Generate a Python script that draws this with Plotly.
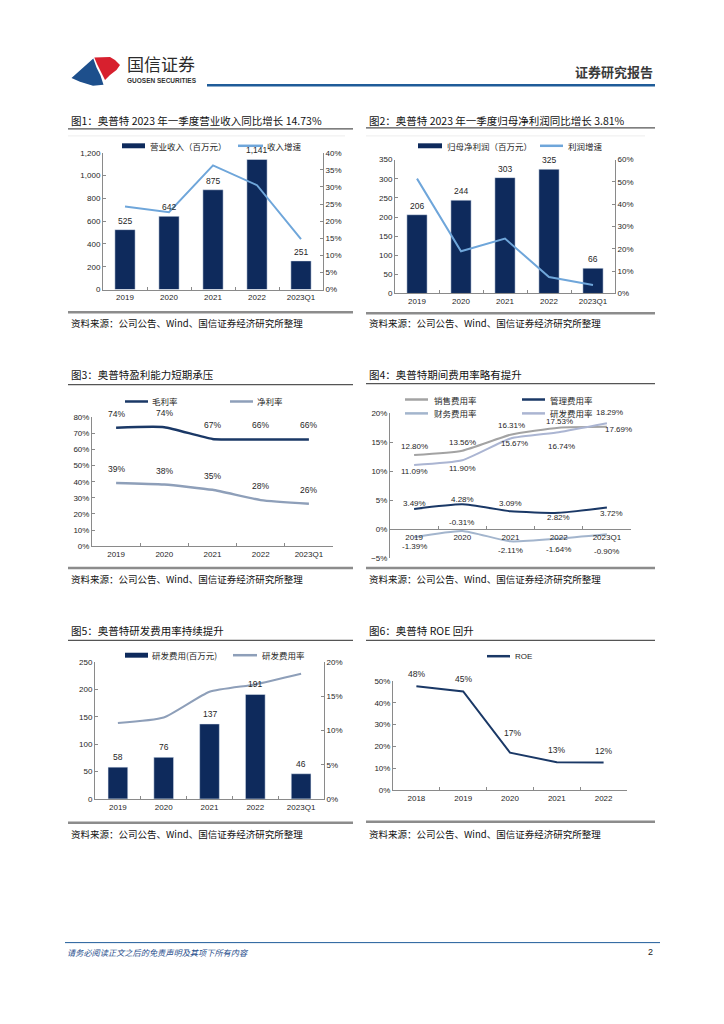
import plotly.graph_objects as go

# ---------------- data ----------------
years = ["2019", "2020", "2021", "2022", "2023Q1"]
roe_years = ["2018", "2019", "2020", "2021", "2022"]

revenue = [525, 642, 875, 1141, 251]                 # 营业收入（百万元）
revenue_growth = [24.3, 22.6, 36.3, 30.5, 14.73]     # 收入增速 %

net_profit = [206, 244, 303, 325, 66]                # 归母净利润（百万元）
profit_growth = [51.5, 18.9, 24.6, 7.4, 3.81]        # 利润增速 %

gross_margin = [73.6, 73.9, 66.6, 66.3, 66.3]        # 毛利率 %
gross_labels = ["74%", "74%", "67%", "66%", "66%"]
net_margin = [39.3, 38.3, 35.0, 28.6, 26.3]          # 净利率 %
net_labels = ["39%", "38%", "35%", "28%", "26%"]

sales_rate = [12.80, 13.56, 16.31, 17.53, 17.69]     # 销售费用率
admin_rate = [3.49, 4.28, 3.09, 2.82, 3.72]          # 管理费用率
fin_rate = [-1.39, -0.31, -2.11, -1.64, -0.90]       # 财务费用率
rd_rate = [11.09, 11.90, 15.67, 16.74, 18.29]        # 研发费用率

rd_expense = [58, 76, 137, 191, 46]                  # 研发费用（百万元）

roe = [47.6, 45.2, 17.1, 12.7, 12.6]                 # ROE %
roe_labels = ["48%", "45%", "17%", "13%", "12%"]

# ---------------- styling ----------------
# the page body has an 8px margin, so the figure starts at (8, 8) of the window
OFF = 8
W, H = 708, 1008
def X(px): return (px - OFF) / W
def Y(py): return 1 - (py - OFF) / H

NAVY = "#0E2A5C"
LBLUE = "#6FA6DA"
GBLUE = "#8E9FB9"
DNAVY = "#1A3866"
GRAY = "#A3A3A3"
FINC = "#A3B5CD"
RDC = "#ABB5D2"
AX = "#8A8A8A"
TXT = "#262626"
FONT = "Liberation Sans, Noto Sans CJK SC, sans-serif"
CJK = "Noto Sans CJK SC, Liberation Sans, sans-serif"

fig = go.Figure()

# chart 1
fig.add_trace(go.Bar(x=years, y=revenue, marker_color=NAVY, width=0.46, xaxis="x", yaxis="y"))
fig.add_trace(go.Scatter(x=years, y=revenue_growth, mode="lines", line=dict(color=LBLUE, width=2), xaxis="x", yaxis="y2"))
# chart 2
fig.add_trace(go.Bar(x=years, y=net_profit, marker_color=NAVY, width=0.46, xaxis="x2", yaxis="y3"))
fig.add_trace(go.Scatter(x=years, y=profit_growth, mode="lines", line=dict(color=LBLUE, width=2), xaxis="x2", yaxis="y4"))
# chart 3
fig.add_trace(go.Scatter(x=years, y=gross_margin, mode="lines", line=dict(color=DNAVY, width=2.5, shape="spline", smoothing=0.5), xaxis="x3", yaxis="y5"))
fig.add_trace(go.Scatter(x=years, y=net_margin, mode="lines", line=dict(color=GBLUE, width=2.5, shape="spline", smoothing=0.5), xaxis="x3", yaxis="y5"))
# chart 4
for vals, col in [(sales_rate, GRAY), (admin_rate, DNAVY), (fin_rate, FINC), (rd_rate, RDC)]:
    fig.add_trace(go.Scatter(x=years, y=vals, mode="lines", line=dict(color=col, width=2, shape="spline", smoothing=0.5), xaxis="x4", yaxis="y6"))
# chart 5
fig.add_trace(go.Bar(x=years, y=rd_expense, marker_color=NAVY, width=0.43, xaxis="x5", yaxis="y7"))
fig.add_trace(go.Scatter(x=years, y=rd_rate, mode="lines", line=dict(color=GBLUE, width=2, shape="spline", smoothing=0.5), xaxis="x5", yaxis="y8"))
# chart 6
fig.add_trace(go.Scatter(x=roe_years, y=roe, mode="lines", line=dict(color=DNAVY, width=2), xaxis="x6", yaxis="y9"))


def xax(x0, x1, anchor, **kw):
    d = dict(domain=[X(x0), X(x1)], anchor=anchor, type="category", range=[-0.5, 4.5], showline=True,
             linecolor=AX, linewidth=1, ticks="inside", tickson="boundaries", ticklen=3, tickcolor=AX,
             showgrid=False, zeroline=False, tickangle=0,
             tickfont=dict(size=8, color=TXT, family=FONT), fixedrange=True)
    d.update(kw)
    return d

def yax(y0, y1, anchor, rng, dtick, **kw):
    d = dict(domain=[Y(y0), Y(y1)], anchor=anchor, range=rng, dtick=dtick, showline=True, linecolor=AX, linewidth=1,
             ticks="inside", ticklen=3, tickcolor=AX, showgrid=False, zeroline=False,
             tickfont=dict(size=8, color=TXT, family=FONT), fixedrange=True)
    d.update(kw)
    return d

def yright(over, anchor, rng, dtick):
    return dict(overlaying=over, side="right", anchor=anchor, range=rng, dtick=dtick, ticksuffix="%",
                showline=True, linecolor=AX, linewidth=1, ticks="inside", ticklen=3, tickcolor=AX,
                showgrid=False, zeroline=False, tickfont=dict(size=8, color=TXT, family=FONT), fixedrange=True)

zero4 = 413 + 20 / 25 * 146

layout = dict(
    width=W, height=H, margin=dict(l=0, r=0, t=0, b=0), showlegend=False,
    paper_bgcolor="white", plot_bgcolor="white", separators=".,",
    font=dict(family=FONT, color=TXT),
    xaxis=xax(103, 323, "y"),
    yaxis=yax(288, 150, "x", [0, 1200], 200, tickformat=",d"),
    yaxis2=yright("y", "x", [0, 40], 5),
    xaxis2=xax(395, 615, "y3"),
    yaxis3=yax(292, 157, "x2", [0, 350], 50),
    yaxis4=yright("y3", "x2", [0, 60], 10),
    xaxis3=xax(92, 333, "y5"),
    yaxis5=yax(547, 417, "x3", [0, 80], 10, ticksuffix="%"),
    xaxis4=xax(390, 631, "free", position=Y(zero4)),
    yaxis6=yax(559, 413, "x4", [-5, 20], 5, ticksuffix="%"),
    xaxis5=xax(95, 324, "y7"),
    yaxis7=yax(802, 664, "x5", [0, 250], 50),
    yaxis8=yright("y7", "x5", [0, 20], 5),
    xaxis6=xax(393, 627, "y9"),
    yaxis9=yax(793, 683, "x6", [0, 50], 10, ticksuffix="%"),
)
fig.update_layout(**layout)

shapes = []
ann = []

def hline(x0, x1, y, color, width):
    shapes.append(dict(type="line", xref="paper", yref="paper", x0=X(x0), x1=X(x1), y0=Y(y), y1=Y(y),
                       line=dict(color=color, width=width)))

def text(x, y, s, size=9, color=TXT, xanchor="left", family=CJK):
    ann.append(dict(xref="paper", yref="paper", x=X(x), y=Y(y), text=s, showarrow=False,
                    xanchor=xanchor, yanchor="middle", font=dict(size=size, color=color, family=family)))

def swatch_bar(x0, x1, y, color):
    shapes.append(dict(type="rect", xref="paper", yref="paper", x0=X(x0), x1=X(x1), y0=Y(y + 2.5), y1=Y(y - 2.5),
                       fillcolor=color, line=dict(width=0)))

def swatch_line(x0, x1, y, color, width=2.5):
    hline(x0, x1, y, color, width)

# header
def poly(pts, color):
    p = "M " + " L ".join(f"{X(a):.5f},{Y(b):.5f}" for a, b in pts) + " Z"
    shapes.append(dict(type="path", xref="paper", yref="paper", path=p, fillcolor=color, line=dict(width=0)))

poly([(71.5, 74.5), (93.3, 55), (96.5, 64), (100.5, 72), (103.5, 81.5), (93, 82.5), (80, 78.5)], "#1D4F8C")
poly([(94.3, 54), (110, 53.3), (115, 56.5), (120, 61.5), (116.5, 66.5), (110, 71.5), (105, 76.5), (101, 68.5), (97, 60.5)], "#D7202E")
text(125, 60, "国信证券", size=17, color="#2B2B2B")
text(125, 77, "<b>GUOSEN SECURITIES</b>", size=6.5, color="#333333", family=FONT)
text(655, 68, "<b>证券研究报告</b>", size=13, color="#3A3A3A", xanchor="right")
hline(207, 655, 82, "#1F5C99", 2.5)

# footer
hline(65, 660, 947, "#1F5C99", 1)
text(65, 956, "<i>请务必阅读正文之后的免责声明及其项下所有内容</i>", size=8.2, color="#1F4E8C")
text(655, 956, "2", size=9, color="#222222", xanchor="right", family=FONT)

# chart frames: titles, underlines, source lines
SRC = "资料来源：公司公告、Wind、国信证券经济研究所整理"
frames = [
    (68, 353, 117, 126, 311, 322, "图1：奥普特 2023 年一季度营业收入同比增长 14.73%"),
    (366, 655, 117, 125, 312, 322, "图2：奥普特 2023 年一季度归母净利润同比增长 3.81%"),
    (68, 353, 374, 384, 569, 580, "图3：奥普特盈利能力短期承压"),
    (366, 655, 374, 383, 569, 580, "图4：奥普特期间费用率略有提升"),
    (68, 353, 632, 642, 826, 837, "图5：奥普特研发费用率持续提升"),
    (366, 655, 632, 642, 825, 837, "图6：奥普特 ROE 回升"),
]
for x0, x1, ty, ly, sy, sty, title in frames:
    text(x0 + 1, ty, title, size=10.5, color="#111111")
    hline(x0, x1, ly, "#555555", 1.2)
    hline(x0, x1, sy, "#8C8C8C", 2.5)
    text(x0 + 1, sty, SRC, size=9.5, color="#111111")
hline(68, 345, 133, "#EDEDED", 1)
hline(366, 645, 133, "#EDEDED", 1)

# legends
swatch_bar(122, 145, 143, NAVY); text(148, 143, "营业收入（百万元）", size=8.5)
swatch_line(238, 263, 143, LBLUE); text(265, 143, "收入增速", size=8.5)
swatch_bar(418, 442, 143, NAVY); text(445, 143, "归母净利润（百万元）", size=8.5)
swatch_line(540, 563, 143, LBLUE); text(566, 143, "利润增速", size=8.5)
swatch_line(125, 148, 401, DNAVY); text(150, 401, "毛利率", size=8.5)
swatch_line(230, 253, 401, GBLUE); text(255, 401, "净利率", size=8.5)
swatch_line(405, 428, 399, GRAY); text(432, 399, "销售费用率", size=8.5)
swatch_line(522, 545, 399, DNAVY); text(548, 399, "管理费用率", size=8.5)
swatch_line(405, 428, 413, FINC); text(432, 413, "财务费用率", size=8.5)
swatch_line(522, 545, 413, RDC); text(548, 413, "研发费用率", size=8.5)
swatch_bar(125, 148, 657, NAVY); text(150, 657, "研发费用(百万元)", size=8.5)
swatch_line(233, 257, 657, GBLUE); text(260, 657, "研发费用率", size=8.5)
swatch_line(487, 510, 658, DNAVY); text(513, 658, "ROE", size=8, family=FONT)

# data labels through axes (x given as category index)
def dlabel(xr, yr, ys, labels, yshift, xshift=None, size=8.5):
    for i, (yv, lb) in enumerate(zip(ys, labels)):
        ann.append(dict(xref=xr, yref=yr, x=i, y=yv, text=lb, showarrow=False,
                        yshift=yshift[i] if isinstance(yshift, list) else yshift,
                        xshift=(xshift[i] if xshift else 0),
                        font=dict(size=size, color=TXT, family=FONT)))

dlabel("x", "y", revenue, [f"{v:,}" for v in revenue], 9)
dlabel("x2", "y3", net_profit, [f"{v:,}" for v in net_profit], 9)
dlabel("x5", "y7", rd_expense, [f"{v:,}" for v in rd_expense], 10)
dlabel("x3", "y5", gross_margin, gross_labels, 14)
dlabel("x3", "y5", net_margin, net_labels, 14)
dlabel("x6", "y9", roe, roe_labels, [12, 12, 20, 12, 12], [0, 0, 3, 0, 0])

pct2 = lambda vals: [f"{v:.2f}%" for v in vals]
dlabel("x4", "y6", sales_rate, pct2(sales_rate), [9, 8, 9, 6, -3], [0, 0, 1, 1, 12], size=8)
dlabel("x4", "y6", rd_rate, pct2(rd_rate), [-7, -8, -5, -14, 11], [0, 0, 4, 3, 3], size=8)
dlabel("x4", "y6", admin_rate, pct2(admin_rate), [5, 5, 8, -5, -6], [0, 0, 0, 0, 5], size=8)
dlabel("x4", "y6", fin_rate, pct2(fin_rate), [-9, 8, -9, -11, -17], [0, -1, 0, 0, 0], size=8)

fig.update_layout(shapes=shapes, annotations=ann)
fig.write_html("out.html")
